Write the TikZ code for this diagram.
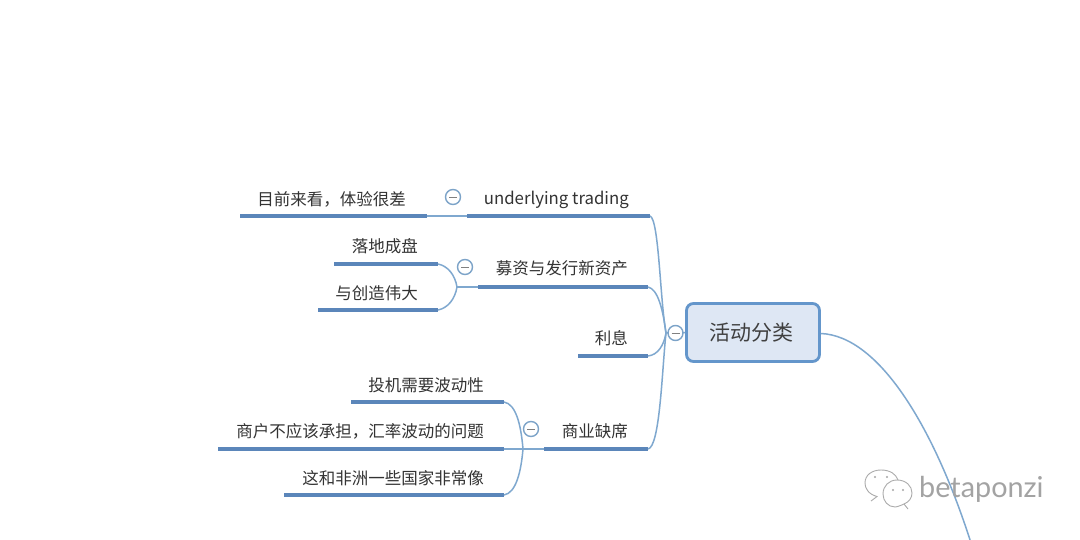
\documentclass[tikz,border=0pt]{standalone}
\usepackage{fontspec}
\setmainfont{Noto Sans CJK SC}
\newfontfamily\wmfont{Lato}
\tikzset{
  x=1pt,y=-1pt,
  topic/.style={anchor=east,inner sep=0pt,text=black!80,font=\fontsize{16.5}{18}\selectfont},
  under/.style={draw=ulblue,line width=3.8pt},
  conn/.style={draw=cnblue,line width=1.5pt},
  collapse/.style={circle,draw=cirblue,line width=1.4pt,fill=white,minimum size=15pt,inner sep=0pt},
  minusbar/.style={draw=black!50,line width=.9pt},
  rootbox/.style={draw=rootblue,line width=2.8pt,fill=rootfill,rounded corners=7pt,minimum width=133pt,minimum height=58pt,inner sep=0pt,text=black!75,font=\fontsize{21}{24}\selectfont},
  wm/.style={draw=black!33,line width=.9pt,fill=none}
}
\definecolor{ulblue}{HTML}{5B86BA}
\definecolor{cnblue}{HTML}{7FA8CF}
\definecolor{cirblue}{HTML}{7CA3C8}
\definecolor{rootblue}{HTML}{6496CB}
\definecolor{rootfill}{HTML}{DEE7F4}
\begin{document}
\begin{tikzpicture}
\useasboundingbox (0,0) rectangle (1080,540);
\clip (0,0) rectangle (1080,540);
\fill[white] (0,0) rectangle (1080,540);
% coordinates of underlines
\coordinate (a0) at (467,216); \coordinate (a1) at (650,216);
\coordinate (b0) at (478,287); \coordinate (b1) at (648,287);
\coordinate (c0) at (578,356); \coordinate (c1) at (648,356);
\coordinate (d0) at (544,449); \coordinate (d1) at (648,449);
\coordinate (a10) at (240,216); \coordinate (a11) at (427,216);
\coordinate (b10) at (334,264); \coordinate (b11) at (438,264);
\coordinate (b20) at (318,310); \coordinate (b21) at (438,310);
\coordinate (d10) at (351,402); \coordinate (d11) at (504,402);
\coordinate (d20) at (218,449); \coordinate (d21) at (504,449);
\coordinate (d30) at (284,495); \coordinate (d31) at (504,495);
\coordinate (bj) at (457,287);
\coordinate (dj) at (523,449);
\coordinate (hub) at (666,333);
\coordinate (far) at (971,543);
% root
\node[rootbox] (root) at (753,332.5) {\hspace{-3pt}\raisebox{-4.5pt}{活动分类}};
% connectors
\path[conn] (root.east) ++(0,1) coordinate (rootout);
\draw[conn] (rootout) .. controls (880,336) and (935,430) .. (far);
\draw[conn] (a1) .. controls (659,219) and (660,300) .. (hub);
\draw[conn] (b1) .. controls (658,289) and (663,310) .. (hub);
\draw[conn] (c1) .. controls (658,355) and (664,345) .. (hub);
\draw[conn] (d1) .. controls (660,447) and (662,370) .. (hub);
\draw[conn] (a11) -- (a0);
\draw[conn] (bj) -- (b0);
\draw[conn] (d21) -- (d0);
\draw[conn] (b11) .. controls (448,266) and (455,275) .. (bj);
\draw[conn] (b21) .. controls (448,308) and (455,299) .. (bj);
\draw[conn] (d11) .. controls (516,404) and (521,425) .. (dj);
\draw[conn] (d31) .. controls (516,493) and (521,472) .. (dj);
\draw[conn] (hub) -- (root.west);
% underlines
\foreach \p/\q in {a0/a1,b0/b1,c0/c1,d0/d1,a10/a11,b10/b11,b20/b21,d10/d11,d20/d21,d30/d31}
  \draw[under] (\p) -- (\q);
% labels
\node[topic,font=\fontsize{16.8}{18}\selectfont] (ta) at (629,199.5) {underlying trading};
\node[topic] (tb) at (628,268) {募资与发行新资产};
\node[topic] (tc) at (628,338) {利息};
\node[topic] (td) at (628,431) {商业缺席};
\node[topic] (ta1) at (406,199) {目前来看，体验很差};
\node[topic] (tb1) at (418,246) {落地成盘};
\node[topic] (tb2) at (418,293) {与创造伟大};
\node[topic] (td1) at (484,385) {投机需要波动性};
\node[topic] (td2) at (484,431) {商户不应该承担，汇率波动的问题};
\node[topic] (td3) at (484,478) {这和非洲一些国家非常像};
% collapse markers
\foreach \n/\x/\y in {ca/453/197,cb/465/267,cd/531/429,cr/675.5/333}{
  \node[collapse] (\n) at (\x,\y) {};
  \draw[minusbar] (\x-4,\y) -- (\x+4,\y);
}
% watermark
\draw[wm] (871,501) -- (877,496.5) .. controls (868,494) and (865,488) .. (865,483)
  .. controls (865,475) and (872,470) .. (881,470)
  .. controls (890,470) and (896,474) .. (898,480);
\draw[wm] (908,509) -- (904,504) .. controls (900,506) and (896,507) .. (895,507)
  .. controls (888,507) and (883,501) .. (883,494)
  .. controls (883,486) and (889,480) .. (897,480)
  .. controls (906,480) and (912,486) .. (912,493)
  .. controls (912,498) and (909,502) .. (904,504);
\foreach \x/\y in {875/477,887/477,893/490,903/490}
  \fill[black!35] (\x,\y) circle (1.2pt);
\node[anchor=west,inner sep=0pt,text=black!36,font=\wmfont\fontsize{28.8}{30}\selectfont] (wmt) at (919,489) {betaponzi};
\end{tikzpicture}
\end{document}
